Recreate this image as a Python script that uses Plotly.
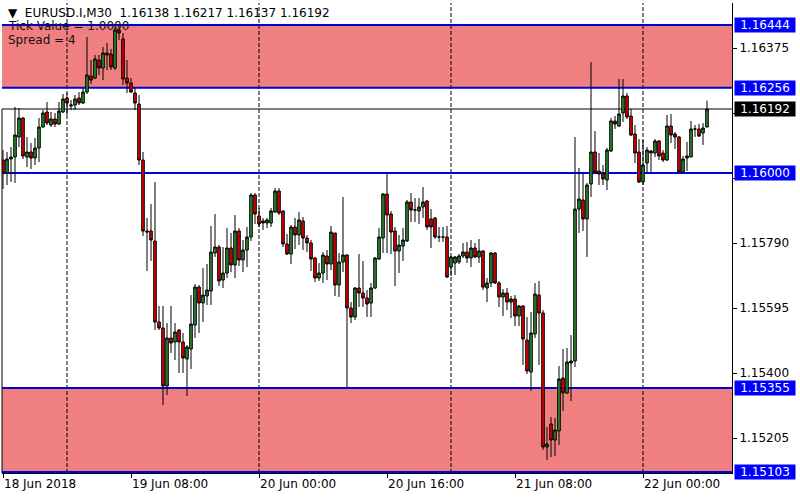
import pandas as pd
import plotly.graph_objects as go

# EURUSD.I, M30 candles, 18 Jun 2018 16:00 -> 22 Jun 2018 08:00
open_ = [
    1.16039, 1.16000, 1.16042, 1.16048, 1.16108, 1.16165, 1.16048, 1.16063, 1.16045, 1.16075,
    1.16138, 1.16183, 1.16144, 1.16162, 1.16147, 1.16183, 1.16225, 1.16201, 1.16204, 1.16225,
    1.16210, 1.16243, 1.16291, 1.16285, 1.16339, 1.16315, 1.16360, 1.16357, 1.16315, 1.16429,
    1.16402, 1.16285, 1.16270, 1.16240, 1.16207, 1.16039, 1.15826, 1.15826, 1.15796, 1.15553,
    1.15535, 1.15361, 1.15505, 1.15493, 1.15529, 1.15493, 1.15442, 1.15472, 1.15544, 1.15658,
    1.15610, 1.15631, 1.15646, 1.15760, 1.15778, 1.15679, 1.15700, 1.15775, 1.15724, 1.15826,
    1.15739, 1.15769, 1.15808, 1.15934, 1.15871, 1.15856, 1.15850, 1.15850, 1.15883, 1.15946,
    1.15886, 1.15787, 1.15757, 1.15838, 1.15814, 1.15856, 1.15805, 1.15790, 1.15745, 1.15685,
    1.15700, 1.15751, 1.15727, 1.15820, 1.15664, 1.15733, 1.15754, 1.15595, 1.15568, 1.15655,
    1.15640, 1.15625, 1.15610, 1.15655, 1.15742, 1.15805, 1.15937, 1.15877, 1.15826, 1.15766,
    1.15781, 1.15796, 1.15913, 1.15889, 1.15886, 1.15898, 1.15916, 1.15862, 1.15865, 1.15808,
    1.15808, 1.15808, 1.15718, 1.15730, 1.15733, 1.15751, 1.15763, 1.15745, 1.15775, 1.15748,
    1.15766, 1.15655, 1.15670, 1.15760, 1.15670, 1.15628, 1.15640, 1.15613, 1.15622, 1.15571,
    1.15601, 1.15499, 1.15403, 1.15517, 1.15634, 1.15580, 1.15178, 1.15247, 1.15199, 1.15226,
    1.15385, 1.15340, 1.15430, 1.15436, 1.15892, 1.15919, 1.15862, 1.15967, 1.16063, 1.16006,
    1.15997, 1.15979, 1.16066, 1.16156, 1.16141, 1.16180, 1.16231, 1.16171, 1.16117, 1.16063,
    1.15973, 1.16030, 1.16066, 1.16060, 1.16096, 1.16060, 1.16039, 1.16141, 1.16117, 1.16108,
    1.16003, 1.16045, 1.16048, 1.16132, 1.16132, 1.16120, 1.16138,
]
high = [
    1.16069, 1.16063, 1.16078, 1.16198, 1.16195, 1.16168, 1.16108, 1.16090, 1.16105, 1.16165,
    1.16189, 1.16213, 1.16183, 1.16180, 1.16213, 1.16237, 1.16240, 1.16219, 1.16234, 1.16243,
    1.16255, 1.16408, 1.16339, 1.16354, 1.16354, 1.16378, 1.16390, 1.16372, 1.16438, 1.16441,
    1.16420, 1.16339, 1.16285, 1.16255, 1.16234, 1.16063, 1.15865, 1.15907, 1.15973, 1.15601,
    1.15601, 1.15550, 1.15601, 1.15550, 1.15532, 1.15520, 1.15484, 1.15634, 1.15667, 1.15664,
    1.15715, 1.15727, 1.15841, 1.15877, 1.15784, 1.15778, 1.15835, 1.15820, 1.15874, 1.15835,
    1.15799, 1.15838, 1.15940, 1.15940, 1.15895, 1.15865, 1.15865, 1.15895, 1.15955, 1.15955,
    1.15889, 1.15817, 1.15844, 1.15865, 1.15883, 1.15868, 1.15814, 1.15799, 1.15748, 1.15730,
    1.15763, 1.15769, 1.15841, 1.15820, 1.15760, 1.15928, 1.15757, 1.15613, 1.15658, 1.15757,
    1.15736, 1.15649, 1.15670, 1.15748, 1.15835, 1.15940, 1.16000, 1.15886, 1.15838, 1.15814,
    1.15835, 1.15919, 1.15940, 1.15925, 1.15925, 1.15958, 1.15919, 1.15892, 1.15868, 1.15838,
    1.15838, 1.15841, 1.15751, 1.15751, 1.15757, 1.15790, 1.15793, 1.15799, 1.15790, 1.15802,
    1.15769, 1.15685, 1.15763, 1.15763, 1.15676, 1.15652, 1.15655, 1.15631, 1.15634, 1.15604,
    1.15604, 1.15568, 1.15583, 1.15670, 1.15676, 1.15589, 1.15238, 1.15268, 1.15265, 1.15421,
    1.15472, 1.15475, 1.15514, 1.16108, 1.16015, 1.16000, 1.15970, 1.16333, 1.16126, 1.16060,
    1.16024, 1.16075, 1.16165, 1.16171, 1.16282, 1.16282, 1.16240, 1.16192, 1.16144, 1.16102,
    1.16099, 1.16078, 1.16069, 1.16102, 1.16099, 1.16069, 1.16174, 1.16177, 1.16123, 1.16111,
    1.16051, 1.16093, 1.16156, 1.16144, 1.16147, 1.16150, 1.16217,
]
low = [
    1.15952, 1.15964, 1.15973, 1.15970, 1.16078, 1.16042, 1.16018, 1.16012, 1.16024, 1.16033,
    1.16135, 1.16144, 1.16138, 1.16138, 1.16144, 1.16180, 1.16174, 1.16189, 1.16189, 1.16204,
    1.16207, 1.16237, 1.16267, 1.16282, 1.16294, 1.16279, 1.16309, 1.16309, 1.16309, 1.16399,
    1.16264, 1.16240, 1.16240, 1.16189, 1.16024, 1.15811, 1.15706, 1.15736, 1.15529, 1.15529,
    1.15304, 1.15334, 1.15460, 1.15439, 1.15400, 1.15400, 1.15331, 1.15412, 1.15505, 1.15520,
    1.15553, 1.15604, 1.15604, 1.15748, 1.15661, 1.15655, 1.15685, 1.15703, 1.15685, 1.15721,
    1.15703, 1.15718, 1.15796, 1.15847, 1.15838, 1.15829, 1.15835, 1.15838, 1.15880, 1.15874,
    1.15778, 1.15754, 1.15727, 1.15772, 1.15784, 1.15769, 1.15763, 1.15706, 1.15673, 1.15676,
    1.15670, 1.15679, 1.15709, 1.15631, 1.15628, 1.15703, 1.15358, 1.15550, 1.15559, 1.15598,
    1.15598, 1.15568, 1.15568, 1.15652, 1.15739, 1.15760, 1.15760, 1.15757, 1.15661, 1.15700,
    1.15736, 1.15793, 1.15853, 1.15853, 1.15847, 1.15865, 1.15829, 1.15775, 1.15802, 1.15793,
    1.15793, 1.15685, 1.15691, 1.15694, 1.15727, 1.15745, 1.15730, 1.15718, 1.15745, 1.15730,
    1.15649, 1.15613, 1.15658, 1.15667, 1.15598, 1.15571, 1.15589, 1.15565, 1.15541, 1.15541,
    1.15424, 1.15397, 1.15346, 1.15505, 1.15424, 1.15169, 1.15139, 1.15148, 1.15151, 1.15184,
    1.15286, 1.15337, 1.15316, 1.15418, 1.15820, 1.15826, 1.15748, 1.15928, 1.16000, 1.15964,
    1.15964, 1.15949, 1.16063, 1.16132, 1.16138, 1.16153, 1.16162, 1.16111, 1.16030, 1.15970,
    1.15964, 1.16003, 1.16003, 1.16048, 1.16039, 1.16033, 1.16036, 1.16090, 1.16072, 1.16000,
    1.16000, 1.16006, 1.16048, 1.16108, 1.16108, 1.16084, 1.16137,
]
close = [
    1.16000, 1.16042, 1.16048, 1.16114, 1.16165, 1.16051, 1.16063, 1.16045, 1.16075, 1.16138,
    1.16180, 1.16150, 1.16162, 1.16147, 1.16186, 1.16222, 1.16210, 1.16204, 1.16222, 1.16210,
    1.16243, 1.16294, 1.16279, 1.16342, 1.16315, 1.16360, 1.16354, 1.16318, 1.16429, 1.16420,
    1.16282, 1.16270, 1.16243, 1.16210, 1.16039, 1.15826, 1.15823, 1.15799, 1.15553, 1.15535,
    1.15361, 1.15505, 1.15490, 1.15523, 1.15493, 1.15445, 1.15478, 1.15547, 1.15658, 1.15610,
    1.15634, 1.15649, 1.15763, 1.15778, 1.15676, 1.15700, 1.15775, 1.15724, 1.15826, 1.15739,
    1.15769, 1.15808, 1.15934, 1.15877, 1.15847, 1.15850, 1.15859, 1.15886, 1.15946, 1.15880,
    1.15787, 1.15757, 1.15838, 1.15814, 1.15859, 1.15805, 1.15790, 1.15742, 1.15685, 1.15700,
    1.15754, 1.15727, 1.15823, 1.15664, 1.15733, 1.15754, 1.15595, 1.15568, 1.15655, 1.15640,
    1.15625, 1.15607, 1.15655, 1.15745, 1.15808, 1.15937, 1.15874, 1.15823, 1.15766, 1.15784,
    1.15799, 1.15913, 1.15889, 1.15889, 1.15898, 1.15913, 1.15838, 1.15838, 1.15808, 1.15808,
    1.15808, 1.15688, 1.15748, 1.15748, 1.15751, 1.15763, 1.15745, 1.15775, 1.15748, 1.15766,
    1.15658, 1.15670, 1.15760, 1.15670, 1.15628, 1.15640, 1.15613, 1.15622, 1.15571, 1.15601,
    1.15502, 1.15406, 1.15520, 1.15637, 1.15580, 1.15178, 1.15187, 1.15199, 1.15229, 1.15382,
    1.15340, 1.15433, 1.15436, 1.15892, 1.15922, 1.15862, 1.15964, 1.16063, 1.16003, 1.15997,
    1.15982, 1.16069, 1.16156, 1.16147, 1.16177, 1.16231, 1.16168, 1.16114, 1.16060, 1.15973,
    1.16024, 1.16069, 1.16060, 1.16096, 1.16051, 1.16039, 1.16141, 1.16114, 1.16108, 1.16003,
    1.16042, 1.16051, 1.16132, 1.16132, 1.16111, 1.16135, 1.16192,
]

times = pd.date_range("2018-06-18 16:00", periods=len(close), freq="30min")
bar = pd.Timedelta(minutes=30)

time_ticks = ["2018-06-18 16:00", "2018-06-19 08:00", "2018-06-20 00:00",
              "2018-06-20 16:00", "2018-06-21 08:00", "2018-06-22 00:00"]
time_labels = ["18 Jun 2018", "19 Jun 08:00", "20 Jun 00:00",
               "20 Jun 16:00", "21 Jun 08:00", "22 Jun 00:00"]
day_breaks = ["2018-06-19", "2018-06-20", "2018-06-21", "2018-06-22"]

resistance_zone = [1.16256, 1.16444]
support_zone = [1.15103, 1.15355]
level = 1.16000
last_price = 1.16192

price_ticks = [1.16375, 1.16180, 1.15985, 1.15790, 1.15595, 1.15400, 1.15205]
price_labels = ["1.16375", "", "", "1.15790", "1.15595", "1.15400", "1.15205"]

header = "▼&nbsp; EURUSD.I,M30&nbsp; 1.16138 1.16217 1.16137 1.16192"
info_lines = ["Tick Value = 1.0000", "Spread = 4"]

FONT = "DejaVu Sans"
LINE_BLUE = "#0000d8"
BOX_BLUE = "#0000ff"
ZONE = "#f08080"

fig = go.Figure(go.Candlestick(
    x=times, open=open_, high=high, low=low, close=close,
    increasing=dict(line=dict(color="black", width=1), fillcolor="#2e8b2e"),
    decreasing=dict(line=dict(color="black", width=1), fillcolor="#e60000"),
    whiskerwidth=0, hoverinfo="skip", showlegend=False,
))

# shaded zones
for lo, hi in (resistance_zone, support_zone):
    fig.add_shape(type="rect", xref="paper", x0=0, x1=1, y0=lo, y1=hi,
                  fillcolor=ZONE, line_width=0, layer="below")

# day separators
for d in day_breaks:
    fig.add_shape(type="line", x0=d, x1=d, yref="paper", y0=0, y1=1,
                  line=dict(color="black", width=1, dash="4px,2px"), layer="below")

# horizontal levels
for p in resistance_zone + support_zone + [level]:
    fig.add_shape(type="line", xref="paper", x0=0, x1=1, y0=p, y1=p,
                  line=dict(color=LINE_BLUE, width=2), layer="below")
fig.add_shape(type="line", xref="paper", x0=0, x1=1, y0=last_price, y1=last_price,
              line=dict(color="black", width=1), layer="below")

# left frame edge
fig.add_shape(type="line", xref="paper", x0=0, x1=0, y0=1.15100, y1=last_price,
              line=dict(color="black", width=1))

# price labels on the right
for p in resistance_zone + support_zone + [level]:
    fig.add_annotation(xref="paper", x=1, y=p, xanchor="left", yanchor="middle",
                       xshift=2, text=f"{p:.5f}", showarrow=False, bgcolor=BOX_BLUE,
                       width=60, height=14, borderpad=0,
                       font=dict(family=FONT, size=12, color="white"))
fig.add_annotation(xref="paper", x=1, y=last_price, xanchor="left", yanchor="middle",
                   xshift=2, text=f"{last_price:.5f}", showarrow=False, bgcolor="black",
                   width=60, height=14, borderpad=0,
                   font=dict(family=FONT, size=12, color="white"))

# header text
fig.add_annotation(xref="paper", yref="paper", x=0, y=1, xanchor="left", yanchor="middle",
                   xshift=5, yshift=-9.5, text=header, showarrow=False, borderpad=0,
                   font=dict(family=FONT, size=12, color="black"))
for k, line in enumerate(info_lines):
    fig.add_annotation(xref="paper", yref="paper", x=0, y=1, xanchor="left",
                       yanchor="middle", xshift=5, yshift=-23 - 14 * k, text=line,
                       showarrow=False, borderpad=0,
                       font=dict(family=FONT, size=12, color="#111111"))

fig.update_layout(
    width=800, height=500,
    margin=dict(l=2, r=68, t=3, b=27),
    paper_bgcolor="white", plot_bgcolor="white",
    font=dict(family=FONT, size=12, color="black"),
    boxgap=0.35, boxgroupgap=0,
    xaxis=dict(
        type="date", automargin=False,
        range=[times[0] - 0.25 * bar, times[0] + 182.25 * bar],
        rangeslider=dict(visible=False),
        tickvals=time_ticks, ticktext=time_labels,
        ticklabelposition="outside right",
        ticks="outside", ticklen=4, tickcolor="black",
        showline=True, linecolor="black", linewidth=1,
        showgrid=False, zeroline=False,
        tickfont=dict(family=FONT, size=12, color="black"),
    ),
    yaxis=dict(
        side="right", automargin=False,
        range=[1.15100, 1.16510],
        tickvals=price_ticks, ticktext=price_labels,
        ticks="outside", ticklen=4, tickcolor="black",
        showline=True, linecolor="black", linewidth=1,
        showgrid=False, zeroline=False,
        tickfont=dict(family=FONT, size=12, color="black"),
    ),
)

# page body has a default 8px margin; drop it so the figure fills the window
fig.write_html("out.html", config={"displayModeBar": False},
               post_script="document.body.style.margin = '0';")
